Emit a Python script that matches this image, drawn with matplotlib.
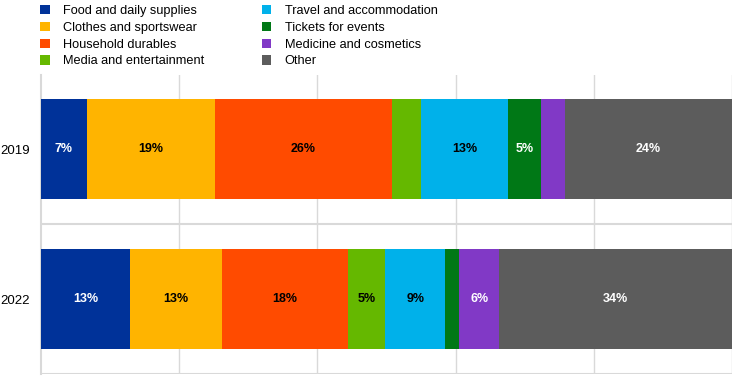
import matplotlib
matplotlib.use("Agg")
import matplotlib.pyplot as plt
from matplotlib.patches import Patch

years = ["2022", "2019"]
categories = ["Food and daily supplies", "Clothes and sportswear", "Household durables",
              "Media and entertainment", "Travel and accommodation", "Tickets for events",
              "Medicine and cosmetics", "Other"]
colors = ["#003299", "#FFB400", "#FF4B00", "#65B800", "#00B1EA", "#007816", "#8139C6", "#5C5C5C"]
label_colors = ["white", "black", "black", "black", "black", "white", "white", "white"]

# shares per category, order matches years
shares = {
    "Food and daily supplies": [12.9, 6.6],
    "Clothes and sportswear": [13.3, 18.6],
    "Household durables": [18.2, 25.6],
    "Media and entertainment": [5.4, 4.2],
    "Travel and accommodation": [8.7, 12.6],
    "Tickets for events": [2.0, 4.8],
    "Medicine and cosmetics": [5.8, 3.4],
    "Other": [33.7, 24.2],
}

plt.rcParams['font.family'] = ['Liberation Sans', 'DejaVu Sans']

fig = plt.figure(figsize=(7.44, 3.78), dpi=100)
ax = fig.add_axes([41 / 744, 1 - 374 / 378, 691 / 744, 299.5 / 378])

left = [0.0, 0.0]
for cat, col, lc in zip(categories, colors, label_colors):
    vals = shares[cat]
    ax.barh(range(len(years)), vals, left=left, height=0.667, color=col,
            edgecolor="none", zorder=3)
    for i, v in enumerate(vals):
        if v >= 4.5:
            ax.text(left[i] + v / 2, i, f"{round(v):.0f}%", ha="center", va="center",
                    color=lc, fontsize=9, fontweight="bold", zorder=4)
    left = [l + v for l, v in zip(left, vals)]

ax.set_xlim(0, 100)
ax.set_ylim(-0.5, 1.5)
ax.set_yticks(range(len(years)))
ax.set_yticklabels(years, fontsize=9.5)
ax.set_xticks([])
for x in [20, 40, 60, 80, 100]:
    ax.axvline(x, color="#d9d9d9", lw=1, zorder=1)
for y in [-0.5, 0.5]:
    ax.axhline(y, color="#d9d9d9", lw=1.5, zorder=1)
ax.tick_params(axis="y", length=0, pad=8)
for s in ["top", "right", "bottom"]:
    ax.spines[s].set_visible(False)
ax.spines["left"].set_color("#d9d9d9")
ax.spines["left"].set_linewidth(1.5)

handles = [Patch(facecolor=c, edgecolor="none") for c in colors]
fig.legend(handles, categories, ncol=2, loc="upper left",
           bbox_to_anchor=(35 / 744, 1 + 0 / 378), frameon=False, fontsize=9.2,
           handlelength=0.75, handleheight=0.75, handletextpad=1.05,
           columnspacing=4.5, labelspacing=0.36, borderaxespad=0)

fig.savefig("out.png", dpi=100)
